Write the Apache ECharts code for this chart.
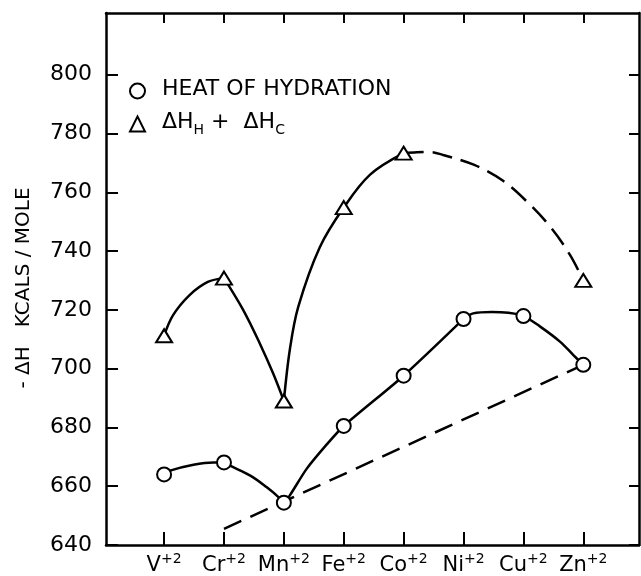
<!DOCTYPE html>
<html>
<head>
<meta charset="utf-8">
<script src="https://cdn.jsdelivr.net/npm/echarts@6/dist/echarts.min.js"></script>
<style>
  html, body { margin: 0; padding: 0; background: #fff; }
  #chart { width: 641px; height: 576px; }
</style>
</head>
<body>
<div id="chart"></div>
<script>
// ions along the x axis, plotted at index 0..7
const ions = ['V', 'Cr', 'Mn', 'Fe', 'Co', 'Ni', 'Cu', 'Zn'];
const ionIdx = [0, 1, 2, 3, 4, 5, 6, 7];
const yTicks = [640, 660, 680, 700, 720, 740, 760, 780, 800];

// measured points (kcal/mole)
const heatHydration = [664.0, 668.1, 654.4, 680.5, 697.6, 716.9, 717.9, 701.3];
const heatPlusCrystal = [711.2, 730.8, 689.0, 754.8, 773.3, null, null, 730.0];

// hand-drawn curves as [ion index, kcal]
const triVCr = [[0, 711.2], [0.15, 718.2], [0.43, 725.1], [0.73, 729.5], [1, 730.8]];
const triCrMn = [[1, 730.8], [1.32, 720.0], [1.60, 708.5], [1.82, 698.4], [2, 689.0]];
const triMnCo = [[2, 689.0], [2.10, 706.5], [2.24, 721.0], [2.60, 741.3], [3, 754.8], [3.44, 766.0], [4, 773.3]];
const triCoZn = [[4, 773.3], [4.22, 773.6], [4.44, 773.7], [4.66, 772.7], [5.18, 769.3], [5.66, 763.9],
                 [6.06, 756.8], [6.46, 748.0], [6.78, 738.6], [7, 730.0]];

const circVCr = [[0, 664.0], [0.10, 665.3], [0.49, 667.3], [0.82, 668.1], [1, 668.1]];
const circCrMn = [[1, 668.1], [1.10, 667.0], [1.44, 663.6], [1.71, 659.7], [1.91, 656.3], [2, 654.4]];
const circMnNi = [[2, 654.4], [2.10, 656.9], [2.38, 665.9], [2.72, 674.3], [3, 680.5], [4, 697.6], [5, 716.9]];
const circNiZn = [[5, 716.9], [5.16, 718.8], [5.47, 719.3], [5.75, 719.0], [6, 717.9], [6.28, 714.3],
                  [6.61, 709.2], [6.83, 704.7], [7, 701.3]];
const baseLine = [[1, 645.5], [7, 701.3]];

const FONT = 'DejaVu Sans';
const NAME_HH = 'HEAT OF HYDRATION';
const NAME_HC = 'ΔH_H + ΔH_C';

const chart = echarts.init(document.getElementById('chart'));

const black = { color: '#000', width: 2.5 };
const hollow = { color: '#fff', borderColor: '#000', borderWidth: 2, opacity: 1 };

function curve(data, dashed, smooth) {
    return {
        type: 'line',
        data: data,
        symbol: 'none',
        smooth: smooth,
        silent: true,
        z: 2,
        lineStyle: { color: '#000', width: 2.5, type: dashed || 'solid' },
    };
}

function xAxisOf(pos) {
    const bottom = pos === 'bottom';
    return {
        type: 'value',
        position: pos,
        min: -0.97,
        max: 7.93,
        splitLine: { show: false },
        axisLine: { show: true, onZero: false, lineStyle: black },
        axisTick: { show: true, inside: true, length: bottom ? 13 : 10, customValues: ionIdx, lineStyle: { color: '#000', width: 2 } },
        axisLabel: bottom ? {
            customValues: ionIdx,
            margin: 7,
            formatter: v => `{b|${ions[v]}}{s|+2}`,
            rich: {
                b: { fontFamily: FONT, fontSize: 21, color: '#000', lineHeight: 24, verticalAlign: 'bottom' },
                s: { fontFamily: FONT, fontSize: 14, color: '#000', lineHeight: 14, verticalAlign: 'top' },
            },
        } : { show: false },
    };
}

function yAxisOf(pos) {
    const left = pos === 'left';
    const ax = {
        type: 'value',
        position: pos,
        min: 640,
        max: 821,
        splitLine: { show: false },
        axisLine: { show: true, onZero: false, lineStyle: black },
        axisTick: { show: true, inside: true, length: left ? 12 : 10, customValues: yTicks, lineStyle: { color: '#000', width: 2 } },
        axisLabel: left ? {
            customValues: yTicks,
            margin: 14,
            fontFamily: FONT,
            fontSize: 22,
            color: '#000',
        } : { show: false },
    };
    if (left) {
        ax.name = '- ΔH   KCALS / MOLE';
        ax.nameLocation = 'middle';
        ax.nameGap = 72;
        // pad on the right so the rotated title sits a little lower
        ax.nameTextStyle = { fontFamily: FONT, fontSize: 20, color: '#000', padding: [0, 18, 0, 0] };
    }
    return ax;
}

chart.setOption({
    animation: false,
    backgroundColor: '#fff',
    grid: { left: 106, right: 2, top: 13, bottom: 26, containLabel: false },
    xAxis: [xAxisOf('bottom'), xAxisOf('top')],
    yAxis: [yAxisOf('left'), yAxisOf('right')],
    legend: {
        data: [NAME_HH, NAME_HC],
        orient: 'vertical',
        left: 124,
        top: 73,
        itemWidth: 15,
        itemHeight: 15,
        itemGap: 11,
        selectedMode: false,
        itemStyle: hollow,
        formatter: name => name === NAME_HH
            ? `{m|${name}}`
            : '{m|ΔH}{sub|H}{m| +  ΔH}{sub|C}',
        textStyle: {
            padding: [0, 0, 0, 12],
            rich: {
                m: { fontFamily: FONT, fontSize: 22, color: '#000', lineHeight: 26, verticalAlign: 'top' },
                sub: { fontFamily: FONT, fontSize: 14, color: '#000', lineHeight: 14, verticalAlign: 'bottom' },
            },
        },
    },
    series: [
        curve(triVCr, null, 0.35),
        curve(triCrMn, null, 0.35),
        curve(triMnCo, null, 0.35),
        curve(triCoZn, [20, 9], 0.35),
        curve(circVCr, null, 0.35),
        curve(circCrMn, null, 0.35),
        curve(circMnNi, null, 0.25),
        curve(circNiZn, null, 0.35),
        curve(baseLine, [19, 10], false),
        {
            name: NAME_HH,
            type: 'scatter',
            data: heatHydration.map((v, i) => [i, v]),
            symbol: 'circle',
            symbolSize: 14,
            z: 5,
            itemStyle: hollow,
        },
        {
            name: NAME_HC,
            type: 'scatter',
            data: heatPlusCrystal.map((v, i) => [i, v]).filter(p => p[1] != null),
            symbol: 'triangle',
            symbolSize: [16, 13],
            z: 5,
            itemStyle: hollow,
        },
    ],
});
</script>
</body>
</html>
